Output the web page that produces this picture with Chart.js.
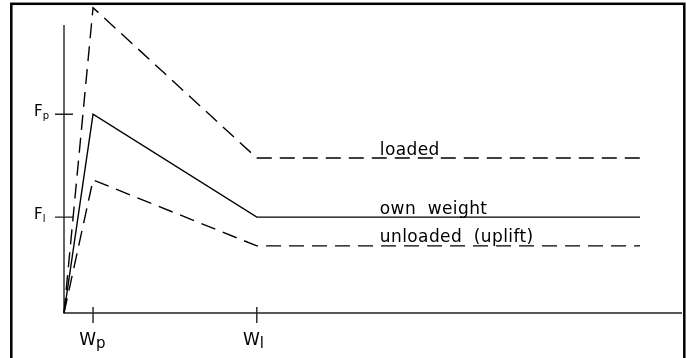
<!DOCTYPE html>
<html>
<head>
<meta charset="utf-8">
<title>Pile resistance vs. displacement</title>
<script src="https://cdn.jsdelivr.net/npm/chart.js@4"></script>
<style>
  html, body { margin: 0; padding: 0; background: #ffffff; }
  canvas { display: block; }
</style>
</head>
<body>
<canvas id="chart" width="687" height="358"></canvas>
<script>
// Displacement breakpoints: origin, peak (Wp), limit (Wl), end of plateau
const displacement = [0, 4.7, 31.2, 93.2];

// Resistance for each load case at those breakpoints
const loaded    = [0, 106, 53.8, 53.8];
const ownWeight = [0, 69, 33.3, 33.3];
const unloaded  = [0, 46.2, 23.3, 23.3];

const seriesNames = ['loaded', 'own  weight', 'unloaded  (uplift)'];

// Axis marks: main letter + subscript
const yTickValues = [69, 33.3];
const yTickLabels = [['F', 'p'], ['F', 'l']];
const xTickValues = [4.7, 31.2];
const xTickLabels = [['W', 'p'], ['W', 'l']];

const yAxisTop = 100;
const xAxisEnd = 100;

const toPoints = (ys) => displacement.map((x, i) => ({ x, y: ys[i] }));

const INK = '#000000';
const AXIS = '#222222';
const FONT = '"DejaVu Sans ExtraLight", "DejaVu Sans", "Liberation Sans", sans-serif';

const diagramPlugin = {
  id: 'diagram',
  beforeDatasetsDraw(chart) {
    const ctx = chart.ctx;
    const xs = chart.scales.x, ys = chart.scales.y;
    const x0 = xs.getPixelForValue(0), y0 = ys.getPixelForValue(0);
    ctx.save();
    ctx.strokeStyle = AXIS;
    ctx.lineWidth = 1.4;
    ctx.beginPath();
    // vertical axis
    ctx.moveTo(x0, ys.getPixelForValue(yAxisTop));
    ctx.lineTo(x0, y0);
    // horizontal axis
    ctx.lineTo(xs.getPixelForValue(xAxisEnd), y0);
    // y ticks
    yTickValues.forEach(v => {
      const py = ys.getPixelForValue(v);
      ctx.moveTo(x0 - 9, py);
      ctx.lineTo(x0 + 9, py);
    });
    // x ticks
    xTickValues.forEach(v => {
      const px = xs.getPixelForValue(v);
      ctx.moveTo(px, y0 - 6);
      ctx.lineTo(px, y0 + 10);
    });
    ctx.stroke();

    ctx.fillStyle = INK;
    ctx.textBaseline = 'alphabetic';
    // y tick labels
    yTickLabels.forEach((lab, i) => {
      const py = ys.getPixelForValue(yTickValues[i]);
      ctx.font = '15px ' + FONT;
      ctx.textAlign = 'left';
      ctx.fillText(lab[0], x0 - 30, py + 2);
      const w = ctx.measureText(lab[0]).width;
      ctx.font = '10px ' + FONT;
      ctx.fillText(lab[1], x0 - 30 + w, py + 5);
    });
    // x tick labels
    xTickLabels.forEach((lab, i) => {
      const px = xs.getPixelForValue(xTickValues[i]);
      ctx.font = '17px ' + FONT;
      ctx.textAlign = 'left';
      const w = ctx.measureText(lab[0]).width;
      ctx.fillText(lab[0], px - w + 3, y0 + 32);
      ctx.font = '15px ' + FONT;
      ctx.fillText(lab[1], px + 3, y0 + 35);
    });
    ctx.restore();
  },
  afterDraw(chart) {
    const ctx = chart.ctx;
    const xs = chart.scales.x, ys = chart.scales.y;
    ctx.save();
    // curve names sit on their plateaus
    ctx.fillStyle = INK;
    ctx.font = '17px ' + FONT;
    ctx.textAlign = 'left';
    ctx.textBaseline = 'alphabetic';
    if ('letterSpacing' in ctx) ctx.letterSpacing = '0.4px';
    chart.data.datasets.forEach(ds => {
      const last = ds.data[ds.data.length - 1];
      ctx.fillText(ds.label, xs.getPixelForValue(51.1), ys.getPixelForValue(last.y) - 3.5);
    });
    // outer frame
    ctx.strokeStyle = '#000000';
    ctx.lineWidth = 2.5;
    ctx.strokeRect(11.3, 3.8, 673, 420);
    ctx.restore();
  }
};

const lineStyle = (dash) => ({
  borderColor: INK,
  borderWidth: 1.4,
  borderDash: dash,
  pointRadius: 0,
  tension: 0,
  fill: false,
  clip: false
});

new Chart(document.getElementById('chart'), {
  type: 'line',
  data: {
    datasets: [
      { label: seriesNames[0], data: toPoints(loaded), ...lineStyle([15, 8]) },
      { label: seriesNames[1], data: toPoints(ownWeight), ...lineStyle([]) },
      { label: seriesNames[2], data: toPoints(unloaded), ...lineStyle([15, 8]) }
    ]
  },
  options: {
    responsive: false,
    animation: false,
    devicePixelRatio: 1,
    layout: { padding: { left: 64, right: 5, top: 4.8, bottom: 45 } },
    plugins: { legend: { display: false }, tooltip: { enabled: false } },
    scales: {
      x: { type: 'linear', min: 0, max: xAxisEnd, display: false },
      y: { type: 'linear', min: 0, max: 107, display: false }
    }
  },
  plugins: [diagramPlugin]
});
</script>
</body>
</html>
